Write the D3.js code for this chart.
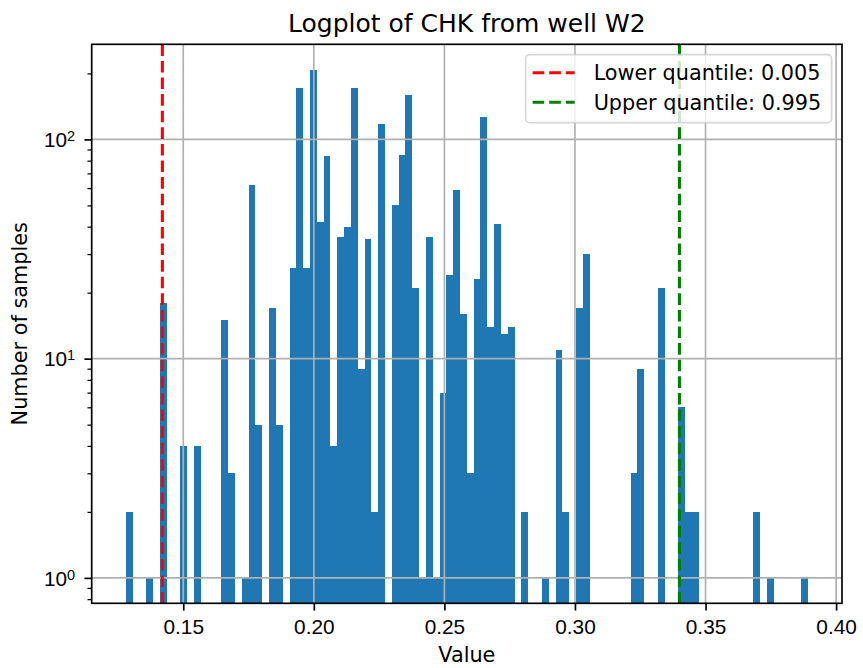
<!DOCTYPE html>
<html>
<head>
<meta charset="utf-8">
<script src="https://cdn.jsdelivr.net/npm/d3@7"></script>
<style>
  body { margin: 0; background: #fff; }
  svg { display: block; font-family: "DejaVu Sans", sans-serif; }
</style>
</head>
<body>
<svg></svg>
<script>
// histogram: 100 bins between the min and max of the data
const binMin = 0.128;
const binMax = 0.3892;
const counts = [
  2, 0, 0, 1, 0, 18, 0, 0, 4, 0,
  4, 0, 0, 0, 15, 3, 0, 1, 62, 5,
  0, 17, 5, 0, 26, 171, 26, 208, 42, 84,
  4, 36, 40, 171, 9, 35, 2, 118, 0, 50,
  85, 160, 21, 1, 36, 1, 7, 24, 59, 16,
  3, 23, 127, 14, 41, 13, 14, 0, 2, 0,
  0, 1, 0, 11, 2, 0, 17, 30, 0, 0,
  0, 0, 0, 0, 3, 9, 0, 0, 21, 0,
  0, 6, 2, 2, 0, 0, 0, 0, 0, 0,
  0, 0, 2, 0, 1, 0, 0, 0, 0, 1,
];
const xTicks = [0.15, 0.2, 0.25, 0.3, 0.35, 0.4];
const yTicks = [1, 10, 100];
const quantileLabels = ["Lower quantile: 0.005", "Upper quantile: 0.995"];
const quantileValues = [0.142, 0.34];
const quantileColors = ["#ff0000", "#008000"];

const W = 863, H = 668;
const plot = { left: 91.7, right: 842, top: 44.3, bottom: 603.3 };
const fs = 20.8; // 10pt at 150 dpi
const barColor = "#1f77b4";
const gridColor = "#b0b0b0";

const svg = d3.select("svg").attr("width", W).attr("height", H);

// bins
const binW = (binMax - binMin) / counts.length;
const bins = counts.map((c, i) => ({
  x0: binMin + i * binW,
  x1: binMin + (i + 1) * binW,
  count: c,
}));

// scales, matplotlib style 5% margins
const xPad = (binMax - binMin) * 0.05;
const x = d3
  .scaleLinear()
  .domain([binMin - xPad, binMax + xPad])
  .range([plot.left, plot.right]);

const logMax = Math.log10(d3.max(counts));
const yPad = logMax * 0.05;
const y = d3
  .scaleLog()
  .domain([Math.pow(10, -yPad), Math.pow(10, logMax + yPad)])
  .range([plot.bottom, plot.top]);

// bars
svg
  .append("g")
  .selectAll("rect")
  .data(bins.filter((d) => d.count > 0))
  .join("rect")
  .attr("x", (d) => x(d.x0))
  .attr("width", (d) => x(d.x1) - x(d.x0))
  .attr("y", (d) => y(d.count))
  .attr("height", (d) => plot.bottom - y(d.count))
  .attr("fill", barColor)
  .attr("shape-rendering", "crispEdges");

// grid (drawn over the bars like matplotlib)
const grid = svg.append("g").attr("stroke", gridColor).attr("stroke-width", 1.67);
grid
  .selectAll(".vgrid")
  .data(xTicks)
  .join("line")
  .attr("x1", (d) => x(d))
  .attr("x2", (d) => x(d))
  .attr("y1", plot.top)
  .attr("y2", plot.bottom);
grid
  .selectAll(".hgrid")
  .data(yTicks)
  .join("line")
  .attr("x1", plot.left)
  .attr("x2", plot.right)
  .attr("y1", (d) => y(d))
  .attr("y2", (d) => y(d));

// quantile lines
svg
  .append("g")
  .selectAll("line")
  .data(quantileValues)
  .join("line")
  .attr("x1", (d) => x(d))
  .attr("x2", (d) => x(d))
  .attr("y1", plot.top)
  .attr("y2", plot.bottom)
  .attr("stroke", (d, i) => quantileColors[i])
  .attr("stroke-width", 3.1)
  .attr("stroke-dasharray", "11.6 5");

// x axis
const xAxis = svg
  .append("g")
  .attr("transform", `translate(0,${plot.bottom})`)
  .call(
    d3
      .axisBottom(x)
      .tickValues(xTicks)
      .tickSize(7.3)
      .tickSizeOuter(0)
      .tickPadding(7.3)
      .tickFormat(d3.format(".2f"))
  );
xAxis.select(".domain").remove();
xAxis.selectAll(".tick line").attr("stroke", "#000").attr("stroke-width", 1.67);
xAxis
  .selectAll(".tick text")
  .attr("fill", "#000")
  .attr("dy", "0.79em")
  .style("font-size", fs + "px");

// y axis, minor ticks first
const minorTicks = y.ticks().filter((d) => !yTicks.includes(d));
const yMinor = svg
  .append("g")
  .attr("transform", `translate(${plot.left},0)`)
  .call(d3.axisLeft(y).tickValues(minorTicks).tickSize(4.2).tickSizeOuter(0).tickFormat(""));
yMinor.select(".domain").remove();
yMinor.selectAll(".tick line").attr("stroke", "#000").attr("stroke-width", 1.25);

const yAxis = svg
  .append("g")
  .attr("transform", `translate(${plot.left},0)`)
  .call(
    d3
      .axisLeft(y)
      .tickValues(yTicks)
      .tickSize(7.3)
      .tickSizeOuter(0)
      .tickPadding(7.3)
      .tickFormat("")
  );
yAxis.select(".domain").remove();
yAxis.selectAll(".tick line").attr("stroke", "#000").attr("stroke-width", 1.67);
yAxis.selectAll(".tick text").remove();
yAxis
  .selectAll(".tick")
  .append("text")
  .attr("x", -16.5)
  .attr("y", 7.3)
  .attr("text-anchor", "end")
  .attr("fill", "#000")
  .style("font-size", fs + "px")
  .each(function (d) {
    const t = d3.select(this);
    t.append("tspan").text("10");
    t.append("tspan")
      .attr("dy", -6)
      .style("font-size", fs * 0.7 + "px")
      .text(Math.round(Math.log10(d)));
  });

// frame
svg
  .append("rect")
  .attr("x", plot.left)
  .attr("y", plot.top)
  .attr("width", plot.right - plot.left)
  .attr("height", plot.bottom - plot.top)
  .attr("fill", "none")
  .attr("stroke", "#000")
  .attr("stroke-width", 1.67);

// title and axis labels
svg
  .append("text")
  .attr("x", (plot.left + plot.right) / 2)
  .attr("y", 32)
  .attr("text-anchor", "middle")
  .style("font-size", "25px")
  .text("Logplot of CHK from well W2");

svg
  .append("text")
  .attr("x", (plot.left + plot.right) / 2)
  .attr("y", 662)
  .attr("text-anchor", "middle")
  .style("font-size", fs + "px")
  .text("Value");

svg
  .append("text")
  .attr("transform", `translate(27,${(plot.top + plot.bottom) / 2}) rotate(-90)`)
  .attr("text-anchor", "middle")
  .style("font-size", fs + "px")
  .text("Number of samples");

// legend
const legend = svg.append("g");
const legendBox = legend
  .append("rect")
  .attr("rx", 4.2)
  .attr("ry", 4.2)
  .attr("fill", "#fff")
  .attr("fill-opacity", 0.8)
  .attr("stroke", "#cccccc")
  .attr("stroke-opacity", 0.8)
  .attr("stroke-width", 1.67);

const rows = legend
  .selectAll(".row")
  .data(quantileLabels)
  .join("g")
  .attr("class", "row")
  .attr("transform", (d, i) => `translate(0,${18 + i * 29.6})`);
rows
  .append("line")
  .attr("x1", 7)
  .attr("x2", 49)
  .attr("stroke", (d, i) => quantileColors[i])
  .attr("stroke-width", 3.1)
  .attr("stroke-dasharray", "11.6 5");
const labels = rows
  .append("text")
  .attr("x", 68)
  .attr("y", 7.4)
  .style("font-size", fs + "px")
  .text((d) => d);

let maxLen = 0;
labels.each(function () {
  maxLen = Math.max(maxLen, this.getComputedTextLength());
});
const legendW = 68 + maxLen + 10.4;
const legendH = 68;
legendBox.attr("width", legendW).attr("height", legendH);
legend.attr(
  "transform",
  `translate(${plot.right - 10.4 - legendW},${plot.top + 10.4})`
);
</script>
</body>
</html>
